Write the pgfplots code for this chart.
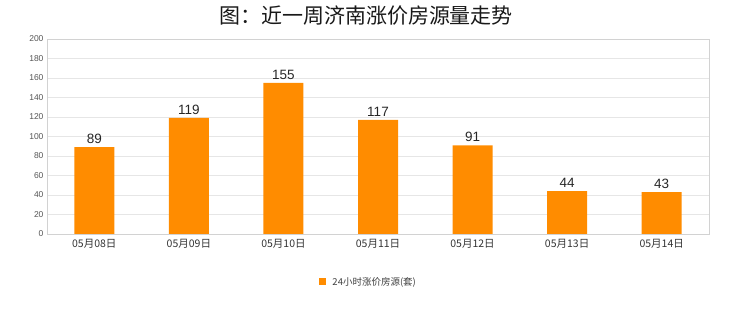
\documentclass[border=0pt]{standalone}
\usepackage{pgfplots}
\pgfplotsset{compat=1.18}
\usepackage{fontspec}
\setmainfont{Noto Sans CJK SC}
\newfontfamily\numfont{Liberation Sans}
\definecolor{barorange}{HTML}{FF8C00}
\definecolor{gridgray}{HTML}{E6E6E6}
\definecolor{ticktext}{HTML}{555555}
\begin{document}
\begin{tikzpicture}[x=1pt,y=1pt]
\path[use as bounding box] (0,0) rectangle (740,312);
\node[font=\fontsize{21}{23}\selectfont, text=black!90] at (366,296) {图：近一周济南涨价房源量走势};
\begin{axis}[
  at={(47pt,78pt)}, anchor=south west,
  scale only axis, width=662pt, height=195pt,
  ymin=0, ymax=200, xmin=-0.5, xmax=6.5,
  ytick={0,20,...,200},
  xtick=data,
  xticklabels={05月08日,05月09日,05月10日,05月11日,05月12日,05月13日,05月14日},
  ybar, bar width=40pt,
  axis line style={gridgray!80!gray},
  ymajorgrids, grid style={gridgray},
  major tick length=0pt,
  /pgf/number format/assume math mode=true,
  yticklabel style={font=\numfont\fontsize{8.5}{10}\selectfont, text=ticktext},
  xticklabel style={font=\fontsize{10.5}{12}\selectfont, text=black!80, yshift=-2pt},
  nodes near coords,
  every node near coord/.append style={font=\numfont\fontsize{13.5}{14}\selectfont, text=black!85},
  legend style={at={(0.486,-0.246)}, anchor=center, draw=none, font=\fontsize{9.5}{10}\selectfont, text=black!75},
  legend image code/.code={\fill[barorange] (0pt,-3.5pt) rectangle (7pt,3.5pt);},
  legend cell align=left,
]
\addplot[fill=barorange, draw=none] coordinates {(0,89) (1,119) (2,155) (3,117) (4,91) (5,44) (6,43)};
\addlegendentry{\hspace{4pt}24小时涨价房源(套)}
\end{axis}
\end{tikzpicture}
\end{document}
